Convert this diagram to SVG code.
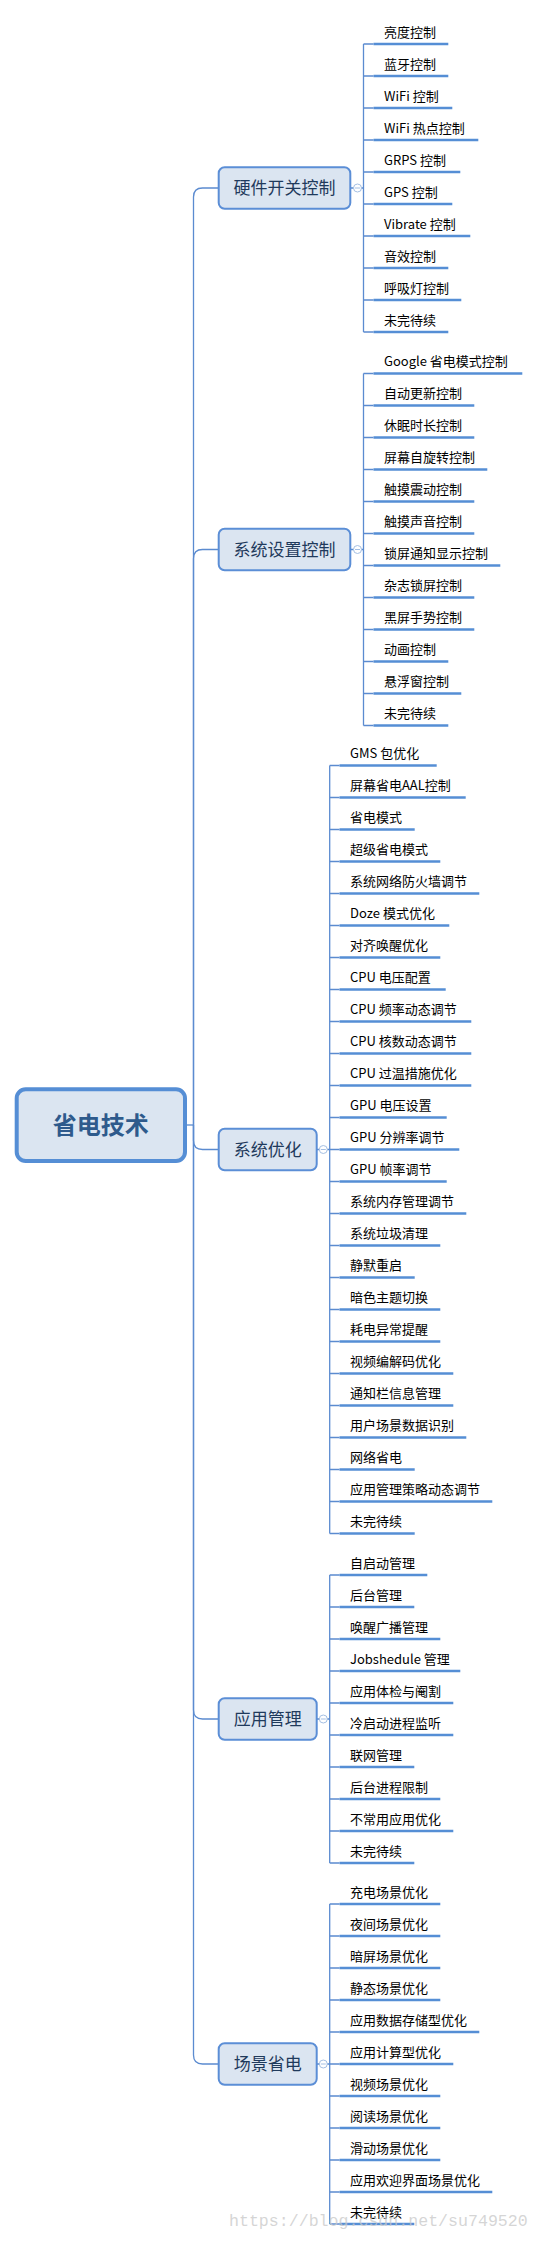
<svg xmlns="http://www.w3.org/2000/svg" width="540" height="2241" viewBox="0 0 540 2241">
<style>
.conn{fill:none;stroke:#5b8bd0;stroke-width:1.3}
.ul{fill:none;stroke:#558ed5;stroke-width:2.6}
.lt{font-family:"Microsoft YaHei","Noto Sans CJK SC",sans-serif;font-size:13px;fill:#000}
.box{fill:#dbe5f1;stroke:#5b8ed6;stroke-width:2}
.bt{font-family:"Noto Sans CJK SC",sans-serif;font-size:17px;fill:#1f3a5c;text-anchor:middle}
.tog{fill:#fff;stroke:#a4bfe3;stroke-width:1}
.togm{stroke:#a4bfe3;stroke-width:1}
.wm{font-family:"Liberation Mono",monospace;font-size:16.6px;fill:#c8c8c8;fill-opacity:0.75}
</style>
<rect width="540" height="2241" fill="#fff"/>
<g id="connectors">
<path class="conn" d="M185 1125H193.5"/>
<path class="conn" d="M193.5 1125V197Q193.5 188 202.5 188H218.7"/>
<path class="conn" d="M193.5 1125V558.5Q193.5 549.5 202.5 549.5H218.7"/>
<path class="conn" d="M193.5 1125V1140.5Q193.5 1149.5 202.5 1149.5H218.7"/>
<path class="conn" d="M193.5 1125V1710Q193.5 1719 202.5 1719H218.7"/>
<path class="conn" d="M193.5 1125V2055Q193.5 2064 202.5 2064H218.7"/>
<!-- branch 1 -->
<path class="conn" d="M350.3 188H363.5M363.5 44V332M363.5 44H373.5M363.5 76H373.5M363.5 108H373.5M363.5 140H373.5M363.5 172H373.5M363.5 204H373.5M363.5 236H373.5M363.5 268H373.5M363.5 300H373.5M363.5 332H373.5"/>
<!-- branch 2 -->
<path class="conn" d="M350.3 549.5H363.5M363.5 373.5V725.5M363.5 373.5H373.5M363.5 405.5H373.5M363.5 437.5H373.5M363.5 469.5H373.5M363.5 501.5H373.5M363.5 533.5H373.5M363.5 565.5H373.5M363.5 597.5H373.5M363.5 629.5H373.5M363.5 661.5H373.5M363.5 693.5H373.5M363.5 725.5H373.5"/>
<!-- branch 3 -->
<path class="conn" d="M316.7 1149.5H329.7M329.7 765.5V1533.5M329.7 765.5H339.5M329.7 797.5H339.5M329.7 829.5H339.5M329.7 861.5H339.5M329.7 893.5H339.5M329.7 925.5H339.5M329.7 957.5H339.5M329.7 989.5H339.5M329.7 1021.5H339.5M329.7 1053.5H339.5M329.7 1085.5H339.5M329.7 1117.5H339.5M329.7 1149.5H339.5M329.7 1181.5H339.5M329.7 1213.5H339.5M329.7 1245.5H339.5M329.7 1277.5H339.5M329.7 1309.5H339.5M329.7 1341.5H339.5M329.7 1373.5H339.5M329.7 1405.5H339.5M329.7 1437.5H339.5M329.7 1469.5H339.5M329.7 1501.5H339.5M329.7 1533.5H339.5"/>
<!-- branch 4 -->
<path class="conn" d="M316.7 1719H329.7M329.7 1575V1863M329.7 1575H339.5M329.7 1607H339.5M329.7 1639H339.5M329.7 1671H339.5M329.7 1703H339.5M329.7 1735H339.5M329.7 1767H339.5M329.7 1799H339.5M329.7 1831H339.5M329.7 1863H339.5"/>
<!-- branch 5 -->
<path class="conn" d="M316.7 2064H329.7M329.7 1904V2224M329.7 1904H339.5M329.7 1936H339.5M329.7 1968H339.5M329.7 2000H339.5M329.7 2032H339.5M329.7 2064H339.5M329.7 2096H339.5M329.7 2128H339.5M329.7 2160H339.5M329.7 2192H339.5M329.7 2224H339.5"/>
</g>
<g id="root">
<rect x="16.7" y="1089.3" width="168.3" height="71.7" rx="9" fill="#dbe5f1" stroke="#558ed5" stroke-width="4"/>
<text x="100.8" y="1134" font-family="Noto Sans CJK SC,sans-serif" font-size="24" font-weight="bold" fill="#2e5a8c" text-anchor="middle">省电技术</text>
</g>
<g id="b1">
<rect class="box" x="218.7" y="167.2" width="131.6" height="41.6" rx="6"/>
<text class="bt" x="284.5" y="194">硬件开关控制</text>
<circle class="tog" cx="357.5" cy="188" r="4"/><path class="togm" d="M355 188H360"/>
</g>
<g id="b2">
<rect class="box" x="218.7" y="528.7" width="131.6" height="41.6" rx="6"/>
<text class="bt" x="284.5" y="555.5">系统设置控制</text>
<circle class="tog" cx="357.5" cy="549.5" r="4"/><path class="togm" d="M355 549.5H360"/>
</g>
<g id="b3">
<rect class="box" x="218.7" y="1128.7" width="98" height="41.6" rx="6"/>
<text class="bt" x="267.7" y="1155.5">系统优化</text>
<circle class="tog" cx="323.3" cy="1149.5" r="4"/><path class="togm" d="M320.8 1149.5H325.8"/>
</g>
<g id="b4">
<rect class="box" x="218.7" y="1698.2" width="98" height="41.6" rx="6"/>
<text class="bt" x="267.7" y="1725">应用管理</text>
<circle class="tog" cx="323.3" cy="1719" r="4"/><path class="togm" d="M320.8 1719H325.8"/>
</g>
<g id="b5">
<rect class="box" x="218.7" y="2043.2" width="98" height="41.6" rx="6"/>
<text class="bt" x="267.7" y="2070">场景省电</text>
<circle class="tog" cx="323.3" cy="2064" r="4"/><path class="togm" d="M320.8 2064H325.8"/>
</g>
<g id="b1-leaves">
<g id="n1-1"><text class="lt" x="384" y="36.5">亮度控制</text><path class="ul" d="M373.5 44H448.3"/></g>
<g id="n1-2"><text class="lt" x="384" y="68.5">蓝牙控制</text><path class="ul" d="M373.5 76H448.3"/></g>
<g id="n1-3"><text class="lt" x="384" y="100.5">WiFi 控制</text><path class="ul" d="M373.5 108H452.3"/></g>
<g id="n1-4"><text class="lt" x="384" y="132.5">WiFi 热点控制</text><path class="ul" d="M373.5 140H478.3"/></g>
<g id="n1-5"><text class="lt" x="384" y="164.5">GRPS 控制</text><path class="ul" d="M373.5 172H460.3"/></g>
<g id="n1-6"><text class="lt" x="384" y="196.5">GPS 控制</text><path class="ul" d="M373.5 204H452.3"/></g>
<g id="n1-7"><text class="lt" x="384" y="228.5">Vibrate 控制</text><path class="ul" d="M373.5 236H470.3"/></g>
<g id="n1-8"><text class="lt" x="384" y="260.5">音效控制</text><path class="ul" d="M373.5 268H448.3"/></g>
<g id="n1-9"><text class="lt" x="384" y="292.5">呼吸灯控制</text><path class="ul" d="M373.5 300H461.3"/></g>
<g id="n1-10"><text class="lt" x="384" y="324.5">未完待续</text><path class="ul" d="M373.5 332H448.3"/></g>
</g>
<g id="b2-leaves">
<g id="n2-1"><text class="lt" x="384" y="366">Google 省电模式控制</text><path class="ul" d="M373.5 373.5H522.3"/></g>
<g id="n2-2"><text class="lt" x="384" y="398">自动更新控制</text><path class="ul" d="M373.5 405.5H474.3"/></g>
<g id="n2-3"><text class="lt" x="384" y="430">休眠时长控制</text><path class="ul" d="M373.5 437.5H474.3"/></g>
<g id="n2-4"><text class="lt" x="384" y="462">屏幕自旋转控制</text><path class="ul" d="M373.5 469.5H487.3"/></g>
<g id="n2-5"><text class="lt" x="384" y="494">触摸震动控制</text><path class="ul" d="M373.5 501.5H474.3"/></g>
<g id="n2-6"><text class="lt" x="384" y="526">触摸声音控制</text><path class="ul" d="M373.5 533.5H474.3"/></g>
<g id="n2-7"><text class="lt" x="384" y="558">锁屏通知显示控制</text><path class="ul" d="M373.5 565.5H500.3"/></g>
<g id="n2-8"><text class="lt" x="384" y="590">杂志锁屏控制</text><path class="ul" d="M373.5 597.5H474.3"/></g>
<g id="n2-9"><text class="lt" x="384" y="622">黑屏手势控制</text><path class="ul" d="M373.5 629.5H474.3"/></g>
<g id="n2-10"><text class="lt" x="384" y="654">动画控制</text><path class="ul" d="M373.5 661.5H448.3"/></g>
<g id="n2-11"><text class="lt" x="384" y="686">悬浮窗控制</text><path class="ul" d="M373.5 693.5H461.3"/></g>
<g id="n2-12"><text class="lt" x="384" y="718">未完待续</text><path class="ul" d="M373.5 725.5H448.3"/></g>
</g>
<g id="b3-leaves">
<g id="n3-1"><text class="lt" x="350" y="758">GMS 包优化</text><path class="ul" d="M339.5 765.5H436.7"/></g>
<g id="n3-2"><text class="lt" x="350" y="790">屏幕省电AAL控制</text><path class="ul" d="M339.5 797.5H465.7"/></g>
<g id="n3-3"><text class="lt" x="350" y="822">省电模式</text><path class="ul" d="M339.5 829.5H414.7"/></g>
<g id="n3-4"><text class="lt" x="350" y="854">超级省电模式</text><path class="ul" d="M339.5 861.5H440.3"/></g>
<g id="n3-5"><text class="lt" x="350" y="886">系统网络防火墙调节</text><path class="ul" d="M339.5 893.5H479.3"/></g>
<g id="n3-6"><text class="lt" x="350" y="918">Doze 模式优化</text><path class="ul" d="M339.5 925.5H449.3"/></g>
<g id="n3-7"><text class="lt" x="350" y="950">对齐唤醒优化</text><path class="ul" d="M339.5 957.5H440.3"/></g>
<g id="n3-8"><text class="lt" x="350" y="982">CPU 电压配置</text><path class="ul" d="M339.5 989.5H445.7"/></g>
<g id="n3-9"><text class="lt" x="350" y="1014">CPU 频率动态调节</text><path class="ul" d="M339.5 1021.5H471.3"/></g>
<g id="n3-10"><text class="lt" x="350" y="1046">CPU 核数动态调节</text><path class="ul" d="M339.5 1053.5H471.3"/></g>
<g id="n3-11"><text class="lt" x="350" y="1078">CPU 过温措施优化</text><path class="ul" d="M339.5 1085.5H471.3"/></g>
<g id="n3-12"><text class="lt" x="350" y="1110">GPU 电压设置</text><path class="ul" d="M339.5 1117.5H446.7"/></g>
<g id="n3-13"><text class="lt" x="350" y="1142">GPU 分辨率调节</text><path class="ul" d="M339.5 1149.5H459.3"/></g>
<g id="n3-14"><text class="lt" x="350" y="1174">GPU 帧率调节</text><path class="ul" d="M339.5 1181.5H446.7"/></g>
<g id="n3-15"><text class="lt" x="350" y="1206">系统内存管理调节</text><path class="ul" d="M339.5 1213.5H466.3"/></g>
<g id="n3-16"><text class="lt" x="350" y="1238">系统垃圾清理</text><path class="ul" d="M339.5 1245.5H440.3"/></g>
<g id="n3-17"><text class="lt" x="350" y="1270">静默重启</text><path class="ul" d="M339.5 1277.5H414.7"/></g>
<g id="n3-18"><text class="lt" x="350" y="1302">暗色主题切换</text><path class="ul" d="M339.5 1309.5H440.3"/></g>
<g id="n3-19"><text class="lt" x="350" y="1334">耗电异常提醒</text><path class="ul" d="M339.5 1341.5H440.3"/></g>
<g id="n3-20"><text class="lt" x="350" y="1366">视频编解码优化</text><path class="ul" d="M339.5 1373.5H453.3"/></g>
<g id="n3-21"><text class="lt" x="350" y="1398">通知栏信息管理</text><path class="ul" d="M339.5 1405.5H453.3"/></g>
<g id="n3-22"><text class="lt" x="350" y="1430">用户场景数据识别</text><path class="ul" d="M339.5 1437.5H466.3"/></g>
<g id="n3-23"><text class="lt" x="350" y="1462">网络省电</text><path class="ul" d="M339.5 1469.5H414.7"/></g>
<g id="n3-24"><text class="lt" x="350" y="1494">应用管理策略动态调节</text><path class="ul" d="M339.5 1501.5H492.3"/></g>
<g id="n3-25"><text class="lt" x="350" y="1526">未完待续</text><path class="ul" d="M339.5 1533.5H414.7"/></g>
</g>
<g id="b4-leaves">
<g id="n4-1"><text class="lt" x="350" y="1567.5">自启动管理</text><path class="ul" d="M339.5 1575H427.3"/></g>
<g id="n4-2"><text class="lt" x="350" y="1599.5">后台管理</text><path class="ul" d="M339.5 1607H414.3"/></g>
<g id="n4-3"><text class="lt" x="350" y="1631.5">唤醒广播管理</text><path class="ul" d="M339.5 1639H440.3"/></g>
<g id="n4-4"><text class="lt" x="350" y="1663.5">Jobshedule 管理</text><path class="ul" d="M339.5 1671H460.3"/></g>
<g id="n4-5"><text class="lt" x="350" y="1695.5">应用体检与阉割</text><path class="ul" d="M339.5 1703H453.3"/></g>
<g id="n4-6"><text class="lt" x="350" y="1727.5">冷启动进程监听</text><path class="ul" d="M339.5 1735H453.3"/></g>
<g id="n4-7"><text class="lt" x="350" y="1759.5">联网管理</text><path class="ul" d="M339.5 1767H414.3"/></g>
<g id="n4-8"><text class="lt" x="350" y="1791.5">后台进程限制</text><path class="ul" d="M339.5 1799H440.3"/></g>
<g id="n4-9"><text class="lt" x="350" y="1823.5">不常用应用优化</text><path class="ul" d="M339.5 1831H453.3"/></g>
<g id="n4-10"><text class="lt" x="350" y="1855.5">未完待续</text><path class="ul" d="M339.5 1863H414.3"/></g>
</g>
<g id="b5-leaves">
<g id="n5-1"><text class="lt" x="350" y="1896.5">充电场景优化</text><path class="ul" d="M339.5 1904H440.3"/></g>
<g id="n5-2"><text class="lt" x="350" y="1928.5">夜间场景优化</text><path class="ul" d="M339.5 1936H440.3"/></g>
<g id="n5-3"><text class="lt" x="350" y="1960.5">暗屏场景优化</text><path class="ul" d="M339.5 1968H440.3"/></g>
<g id="n5-4"><text class="lt" x="350" y="1992.5">静态场景优化</text><path class="ul" d="M339.5 2000H440.3"/></g>
<g id="n5-5"><text class="lt" x="350" y="2024.5">应用数据存储型优化</text><path class="ul" d="M339.5 2032H479.3"/></g>
<g id="n5-6"><text class="lt" x="350" y="2056.5">应用计算型优化</text><path class="ul" d="M339.5 2064H453.3"/></g>
<g id="n5-7"><text class="lt" x="350" y="2088.5">视频场景优化</text><path class="ul" d="M339.5 2096H440.3"/></g>
<g id="n5-8"><text class="lt" x="350" y="2120.5">阅读场景优化</text><path class="ul" d="M339.5 2128H440.3"/></g>
<g id="n5-9"><text class="lt" x="350" y="2152.5">滑动场景优化</text><path class="ul" d="M339.5 2160H440.3"/></g>
<g id="n5-10"><text class="lt" x="350" y="2184.5">应用欢迎界面场景优化</text><path class="ul" d="M339.5 2192H492.3"/></g>
<g id="n5-11"><text class="lt" x="350" y="2216.5">未完待续</text><path class="ul" d="M339.5 2224H414.3"/></g>
</g>
<text class="wm" x="229" y="2226">https://blog.csdn.net/su749520</text>
</svg>
